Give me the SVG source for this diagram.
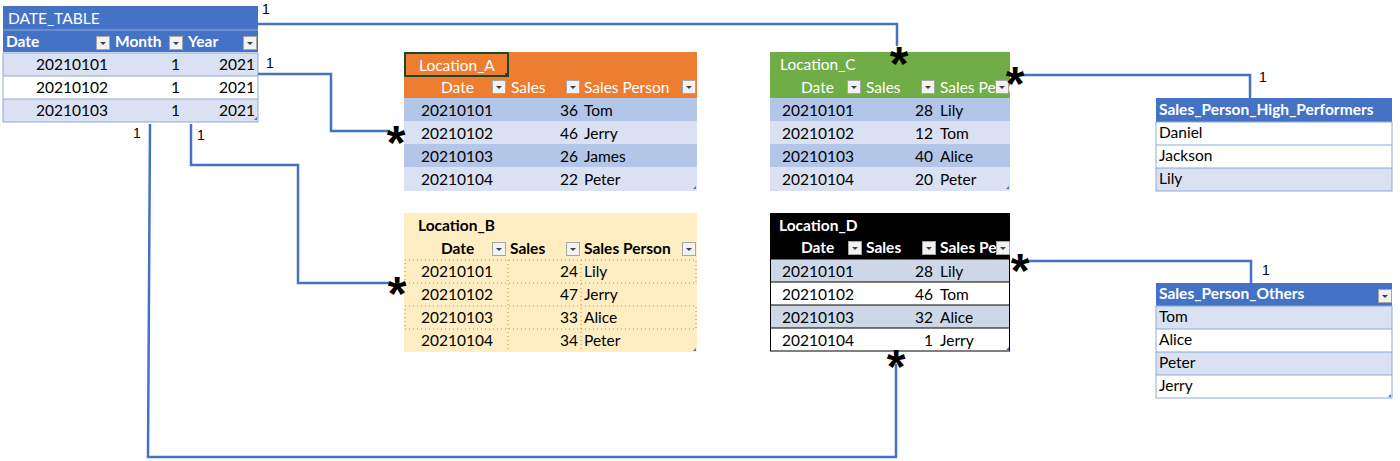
<svg xmlns="http://www.w3.org/2000/svg" width="1400" height="461" viewBox="0 0 1400 461">
<style>
text{font-family:Lato,"Liberation Sans",sans-serif;font-size:15.5px;fill:#000}
.w{fill:#fff}
.b{font-weight:bold}
.e{text-anchor:end}
.one{font-family:"Liberation Sans",sans-serif;font-size:14px}
.star{font-family:"Liberation Sans",sans-serif;font-weight:bold;font-size:48px;text-anchor:middle}
.conn{fill:none;stroke:#4472C4;stroke-width:2.5}
.rowsep{stroke:#8EA9DB;stroke-width:1}
</style>
<defs>
<symbol id="dd" viewBox="0 0 14 14" width="14" height="14" overflow="visible">
<rect x="0.5" y="0.5" width="13" height="13" fill="#F2F2F2" stroke="#A6A6A6"/>
<path d="M4 6 L10 6 L7 9 Z" fill="#404040"/>
</symbol>
<clipPath id="clipC"><rect x="770" y="75" width="240" height="24"/></clipPath>
<clipPath id="clipD"><rect x="770" y="236" width="240" height="24"/></clipPath>
</defs>

<g id="DATE_TABLE">
<rect x="3" y="6" width="255" height="46" fill="#4472C4"/>
<rect x="3" y="53" width="255" height="23" fill="#D9E1F2"/>
<rect x="3" y="76" width="255" height="23" fill="#fff"/>
<rect x="3" y="99" width="255" height="23" fill="#D9E1F2"/>
<rect x="3" y="53" width="255" height="69" fill="none" stroke="#8EA9DB"/>
<line class="rowsep" x1="3" y1="76" x2="258" y2="76"/>
<line class="rowsep" x1="3" y1="99" x2="258" y2="99"/>
<line x1="3" y1="30" x2="258" y2="30" stroke="#fff" stroke-opacity="0.4"/>
<text class="w" x="8" y="24">DATE_TABLE</text>
<text class="w b" x="6" y="47">Date</text>
<text class="w b" x="115" y="47">Month</text>
<text class="w b" x="188" y="47">Year</text>
<use href="#dd" x="96" y="36"/>
<use href="#dd" x="169" y="36"/>
<use href="#dd" x="243" y="36"/>
<text class="e" x="108" y="70">20210101</text><text class="e" x="180" y="70">1</text><text class="e" x="255" y="70">2021</text>
<text class="e" x="108" y="93">20210102</text><text class="e" x="180" y="93">1</text><text class="e" x="255" y="93">2021</text>
<text class="e" x="108" y="116">20210103</text><text class="e" x="180" y="116">1</text><text class="e" x="255" y="116">2021</text>
<path d="M254 120 h3 v-3 z" fill="#4472C4"/>
</g>

<g id="Location_A">
<rect x="404" y="52" width="293" height="46" fill="#ED7D31"/>
<rect x="404" y="98" width="293" height="23" fill="#B4C6E7"/>
<rect x="404" y="121" width="293" height="23" fill="#D9E1F2"/>
<rect x="404" y="144" width="293" height="23" fill="#B4C6E7"/>
<rect x="404" y="167" width="293" height="24" fill="#D9E1F2"/>
<rect x="405" y="53" width="103" height="23" fill="none" stroke="#1E4620" stroke-width="2"/>
<rect x="505" y="73" width="4" height="4" fill="#1E4620"/>
<text class="w" x="419" y="71">Location_A</text>
<text class="w" x="441" y="93">Date</text>
<text class="w" x="511" y="93">Sales</text>
<text class="w" x="584" y="93">Sales Person</text>
<use href="#dd" x="492" y="80"/>
<use href="#dd" x="566" y="80"/>
<use href="#dd" x="682" y="80"/>
<text x="421" y="116">20210101</text><text class="e" x="578" y="116">36</text><text x="584" y="116">Tom</text>
<text x="421" y="139">20210102</text><text class="e" x="578" y="139">46</text><text x="584" y="139">Jerry</text>
<text x="421" y="162">20210103</text><text class="e" x="578" y="162">26</text><text x="584" y="162">James</text>
<text x="421" y="185">20210104</text><text class="e" x="578" y="185">22</text><text x="584" y="185">Peter</text>
<path d="M693 189 h3 v-3 z" fill="#4472C4"/>
</g>

<g id="Location_B">
<rect x="404" y="213" width="293" height="139" fill="#FFEEC2"/>
<g fill="none" stroke="#ED7D31" stroke-width="1" stroke-dasharray="1,3">
<rect x="405" y="260" width="291" height="23"/>
<rect x="405" y="306" width="291" height="23"/>
<line x1="508" y1="260" x2="508" y2="352"/>
<line x1="581" y1="260" x2="581" y2="352"/>
</g>
<text class="b" x="418" y="231">Location_B</text>
<text class="b" x="441" y="254">Date</text>
<text class="b" x="510" y="254">Sales</text>
<text class="b" x="584" y="254">Sales Person</text>
<use href="#dd" x="492" y="242"/>
<use href="#dd" x="566" y="242"/>
<use href="#dd" x="682" y="242"/>
<text x="421" y="277">20210101</text><text class="e" x="578" y="277">24</text><text x="584" y="277">Lily</text>
<text x="421" y="300">20210102</text><text class="e" x="578" y="300">47</text><text x="584" y="300">Jerry</text>
<text x="421" y="323">20210103</text><text class="e" x="578" y="323">33</text><text x="584" y="323">Alice</text>
<text x="421" y="346">20210104</text><text class="e" x="578" y="346">34</text><text x="584" y="346">Peter</text>
<path d="M693 351 h3 v-3 z" fill="#4472C4"/>
</g>

<g id="Location_C">
<rect x="770" y="52" width="240" height="46" fill="#70AD47"/>
<rect x="770" y="98" width="240" height="23" fill="#B4C6E7"/>
<rect x="770" y="121" width="240" height="23" fill="#D9E1F2"/>
<rect x="770" y="144" width="240" height="23" fill="#B4C6E7"/>
<rect x="770" y="167" width="240" height="24" fill="#D9E1F2"/>
<text class="w" x="780" y="70">Location_C</text>
<text class="w" x="801" y="93">Date</text>
<text class="w" x="866" y="93">Sales</text>
<text class="w" x="940" y="93" clip-path="url(#clipC)">Sales Person</text>
<use href="#dd" x="847" y="80"/>
<use href="#dd" x="921" y="80"/>
<use href="#dd" x="995" y="80"/>
<text x="782" y="116">20210101</text><text class="e" x="933" y="116">28</text><text x="940" y="116">Lily</text>
<text x="782" y="139">20210102</text><text class="e" x="933" y="139">12</text><text x="940" y="139">Tom</text>
<text x="782" y="162">20210103</text><text class="e" x="933" y="162">40</text><text x="940" y="162">Alice</text>
<text x="782" y="185">20210104</text><text class="e" x="933" y="185">20</text><text x="940" y="185">Peter</text>
<path d="M1006 189 h3 v-3 z" fill="#4472C4"/>
</g>

<g id="Location_D">
<rect x="770" y="213" width="240" height="46" fill="#000"/>
<rect x="770" y="259" width="240" height="23" fill="#CDD7E8"/>
<rect x="770" y="282" width="240" height="23" fill="#fff"/>
<rect x="770" y="305" width="240" height="23" fill="#CDD7E8"/>
<rect x="770" y="328" width="240" height="23" fill="#fff"/>
<g stroke="#000" stroke-width="1">
<line x1="770" y1="282" x2="1010" y2="282"/>
<line x1="770" y1="305" x2="1010" y2="305"/>
<line x1="770" y1="328" x2="1010" y2="328"/>
<rect x="770.5" y="259" width="239" height="92" fill="none"/>
</g>
<text class="w b" x="779" y="231">Location_D</text>
<text class="w b" x="801" y="253">Date</text>
<text class="w b" x="866" y="253">Sales</text>
<text class="w b" x="940" y="253" clip-path="url(#clipD)">Sales Person</text>
<use href="#dd" x="848" y="241"/>
<use href="#dd" x="922" y="241"/>
<use href="#dd" x="996" y="241"/>
<text x="782" y="277">20210101</text><text class="e" x="933" y="277">28</text><text x="940" y="277">Lily</text>
<text x="782" y="300">20210102</text><text class="e" x="933" y="300">46</text><text x="940" y="300">Tom</text>
<text x="782" y="323">20210103</text><text class="e" x="933" y="323">32</text><text x="940" y="323">Alice</text>
<text x="782" y="346">20210104</text><text class="e" x="933" y="346">1</text><text x="940" y="346">Jerry</text>
<path d="M1006 350 h3 v-3 z" fill="#4472C4"/>
</g>

<g id="Sales_Person_High_Performers">
<rect x="1156" y="98" width="236" height="24" fill="#4472C4"/>
<rect x="1156" y="122" width="236" height="46" fill="#fff"/>
<rect x="1156" y="168" width="236" height="23" fill="#D9E1F2"/>
<rect x="1156" y="122" width="236" height="69" fill="none" stroke="#8EA9DB"/>
<line class="rowsep" x1="1156" y1="145" x2="1392" y2="145"/>
<line class="rowsep" x1="1156" y1="168" x2="1392" y2="168"/>
<text class="w b" x="1159" y="115">Sales_Person_High_Performers</text>
<text x="1159" y="138">Daniel</text>
<text x="1159" y="161">Jackson</text>
<text x="1159" y="184">Lily</text>
</g>

<g id="Sales_Person_Others">
<rect x="1156" y="283" width="236" height="23" fill="#4472C4"/>
<rect x="1156" y="306" width="236" height="23" fill="#D9E1F2"/>
<rect x="1156" y="329" width="236" height="23" fill="#fff"/>
<rect x="1156" y="352" width="236" height="23" fill="#D9E1F2"/>
<rect x="1156" y="375" width="236" height="23" fill="#fff"/>
<rect x="1156" y="306" width="236" height="92" fill="none" stroke="#8EA9DB"/>
<line class="rowsep" x1="1156" y1="329" x2="1392" y2="329"/>
<line class="rowsep" x1="1156" y1="352" x2="1392" y2="352"/>
<line class="rowsep" x1="1156" y1="375" x2="1392" y2="375"/>
<text class="w b" x="1159" y="299">Sales_Person_Others</text>
<use href="#dd" x="1378" y="289"/>
<text x="1159" y="322">Tom</text>
<text x="1159" y="345">Alice</text>
<text x="1159" y="368">Peter</text>
<text x="1159" y="391">Jerry</text>
<path d="M1388 397 h3 v-3 z" fill="#4472C4"/>
</g>

<g id="connectors">
<polyline class="conn" points="258,24 897,24 897,46"/>
<polyline class="conn" points="258,74 331,74 331,131 390,131"/>
<polyline class="conn" points="191,124 191,165 298,165 298,283 390,283"/>
<polyline class="conn" points="150,124 148,457 896,457 896,364"/>
<polyline class="conn" points="1022,75 1250,75 1250,99"/>
<polyline class="conn" points="1027,261 1251,261 1251,284"/>
<text class="one" x="262" y="14">1</text>
<text class="one" x="266" y="68">1</text>
<text class="one" x="133" y="138">1</text>
<text class="one" x="197" y="140">1</text>
<text class="one" x="1259" y="82">1</text>
<text class="one" x="1262" y="275">1</text>
<text class="star" x="899" y="80">*</text>
<text class="star" x="396" y="159">*</text>
<text class="star" x="397" y="310">*</text>
<text class="star" x="1015" y="100">*</text>
<text class="star" x="1020" y="287">*</text>
<text class="star" x="896" y="383">*</text>
</g>
</svg>
